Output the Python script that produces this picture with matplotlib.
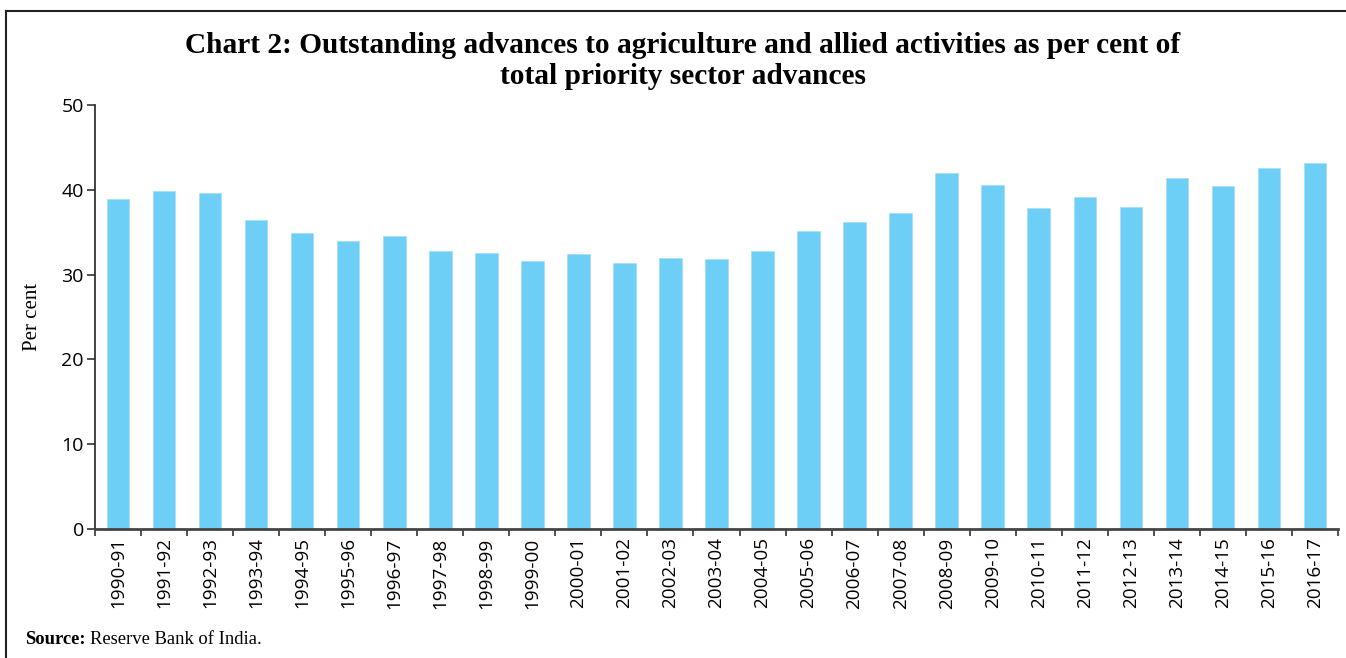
import matplotlib.pyplot as plt
from matplotlib.lines import Line2D
import numpy as np

years = ["1990-91", "1991-92", "1992-93", "1993-94", "1994-95", "1995-96",
         "1996-97", "1997-98", "1998-99", "1999-00", "2000-01", "2001-02",
         "2002-03", "2003-04", "2004-05", "2005-06", "2006-07", "2007-08",
         "2008-09", "2009-10", "2010-11", "2011-12", "2012-13", "2013-14",
         "2014-15", "2015-16", "2016-17"]
share = [38.9, 39.8, 39.6, 36.4, 34.9, 34.0, 34.5, 32.8, 32.5, 31.6, 32.4,
         31.4, 32.0, 31.8, 32.8, 35.1, 36.2, 37.3, 42.0, 40.6, 37.9, 39.1,
         38.0, 41.4, 40.4, 42.6, 43.2]
yticks = [0, 10, 20, 30, 40, 50]

title = ("Chart 2: Outstanding advances to agriculture and allied activities as per cent of\n"
         "total priority sector advances")

fig = plt.figure(figsize=(13.46, 6.58), dpi=100)
ax = fig.add_axes([95 / 1346, 129 / 658, 1243 / 1346, 424 / 658])

x = np.arange(len(years))
ax.bar(x, share, width=0.49, color="#6dcff6", edgecolor="#a8e0f7", linewidth=0.6)

ax.set_xlim(-0.5, len(years) - 0.5)
ax.set_ylim(0, 50)
ax.set_yticks(yticks)

# tick marks between categories, labels centred under bars
ax.set_xticks(np.arange(len(years) + 1) - 0.5)
ax.set_xticklabels([])
ax.set_xticks(x, minor=True)
ax.set_xticklabels(years, minor=True, rotation=90, fontsize=13.6, family="Open Sans")
ax.tick_params(axis="x", which="major", direction="out", length=5, width=1.2, color="#333333")
ax.tick_params(axis="x", which="minor", length=0, pad=6)
ax.tick_params(axis="y", direction="out", length=6, width=1.2, pad=2, color="#333333")
for lab in ax.get_yticklabels():
    lab.set_family("Open Sans")
    lab.set_fontsize(14)

for s in ["top", "right"]:
    ax.spines[s].set_visible(False)
ax.spines["left"].set_color("#222222")
ax.spines["left"].set_linewidth(1.2)
ax.spines["bottom"].set_color("#444444")
ax.spines["bottom"].set_linewidth(2)

ax.set_ylabel("Per cent", family="Liberation Serif", fontsize=15, labelpad=14)

fig.text(683 / 1346, 1 - 61 / 658, title, ha="center", va="center",
         family="Liberation Serif", fontweight="bold", fontsize=21.2, linespacing=1.2)

# frame lines (top and left only)
fig.add_artist(Line2D([6 / 1346, 1], [1 - 11 / 658, 1 - 11 / 658], color="#222222", lw=1.5,
                      transform=fig.transFigure))
fig.add_artist(Line2D([6 / 1346, 6 / 1346], [0, 1 - 11 / 658], color="#222222", lw=1.5,
                      transform=fig.transFigure))

# source note
src = fig.text(25 / 1346, 1 - 640 / 658, "Source:", ha="left", va="center",
               family="Liberation Serif", fontweight="bold", fontsize=13.4)
fig.canvas.draw()
bb = src.get_window_extent()
fig.text(bb.x1 / 1346 + 5 / 1346, 1 - 640 / 658, "Reserve Bank of India.", ha="left", va="center",
         family="Liberation Serif", fontsize=13.4)

fig.savefig("out.png", dpi=100)
